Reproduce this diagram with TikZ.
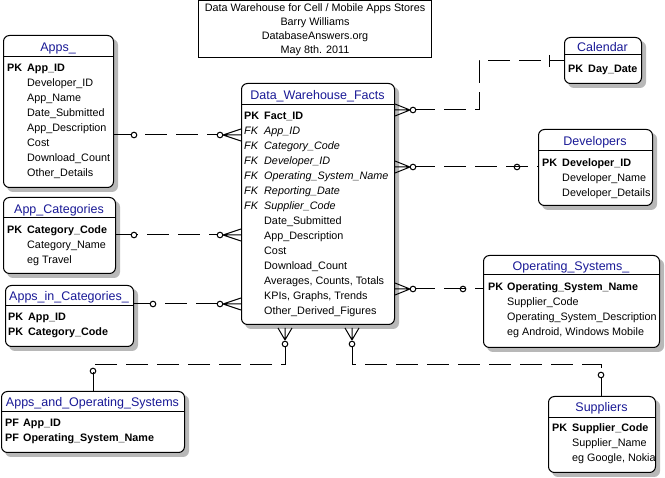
\documentclass[tikz,border=0pt]{standalone}
\usepackage{fontspec}
\setmainfont{Liberation Sans}
\usetikzlibrary{calc,backgrounds}
\definecolor{ttlc}{RGB}{25,25,150}
\newcommand\attrows[4]{%
  \foreach \t [count=\i] in {#4} {\node[att] (#1-\i) at (#2,{#3+15*\i}) {\t};}}
\newcommand\crowL[1]{%
  \draw[sol] ($(#1)+(-18,0)$) -- ($(#1)+(0,-6)$) ($(#1)+(-18,0)$) -- (#1) ($(#1)+(-18,0)$) -- ($(#1)+(0,6)$);
  \draw[sol,fill=white] ($(#1)+(-21,0)$) circle (2.8pt);}
\newcommand\crowR[1]{%
  \draw[sol] ($(#1)+(15,0)$) -- ($(#1)+(0,-6)$) ($(#1)+(15,0)$) -- (#1) ($(#1)+(15,0)$) -- ($(#1)+(0,6)$);
  \draw[sol,fill=white] ($(#1)+(18,0)$) circle (2.8pt);}
\newcommand\crowD[1]{%
  \draw[sol] ($(#1)+(0,15)$) -- ($(#1)+(-7,3)$) ($(#1)+(0,15)$) -- ($(#1)+(0,3)$) ($(#1)+(0,15)$) -- ($(#1)+(7,3)$);
  \draw[sol,fill=white] ($(#1)+(0,19)$) circle (2.8pt);}
\begin{document}
\begin{tikzpicture}[x=1pt,y=-1pt,
  sol/.style={line width=1pt},
  rel/.style={line width=1pt,dash pattern=on 22pt off 9pt},
  ent/.style={draw,line width=1pt,rounded corners=6pt,fill=white,anchor=north west,inner sep=0pt},
  shd/.style={fill=black!28,rounded corners=6pt},
  ttl/.style={anchor=base,inner sep=0pt,text=ttlc,font=\fontsize{12.5}{15}\selectfont},
  att/.style={anchor=base west,inner sep=0pt,font=\fontsize{10.8}{13}\selectfont},
  kb/.style={att,font=\fontsize{10.8}{13}\selectfont\bfseries},
  fki/.style={att,font=\fontsize{10.8}{13}\selectfont\itshape}]
\useasboundingbox (0,0) rectangle (665,478);

% header box
\node[draw,line width=1pt,minimum width=233pt,minimum height=57pt,anchor=north west,inner sep=0pt,
  align=center,font=\fontsize{10.8}{14}\selectfont] (hdr) at (198,0.5)
  {Data Warehouse for Cell / Mobile Apps Stores\\Barry Williams\\DatabaseAnswers.org\\May 8th. 2011};

% Apps_
\node[ent,minimum width=110pt,minimum height=152pt] (apps) at (3,35) {};
\draw[sol] ($(apps.north west)+(0,22)$) -- ($(apps.north east)+(0,22)$);
\node[ttl] (apps-t) at (58,51.5) {Apps\_};
\node[kb] (apps-pk) at (7,72) {PK};
\node[kb] (apps-k) at (27,72) {App\_ID};
\attrows{apps}{27}{72}{Developer\_ID,App\_Name,Date\_Submitted,App\_Description,Cost,Download\_Count,Other\_Details}

% App_Categories
\node[ent,minimum width=112pt,minimum height=76pt] (appcat) at (3,197) {};
\draw[sol] ($(appcat.north west)+(0,21)$) -- ($(appcat.north east)+(0,21)$);
\node[ttl] (appcat-t) at (59,213.5) {App\_Categories};
\node[kb] (appcat-pk) at (7,234) {PK};
\node[kb] (appcat-k) at (27,234) {Category\_Code};
\attrows{appcat}{27}{234}{Category\_Name,eg Travel}

% Apps_in_Categories_
\node[ent,minimum width=128pt,minimum height=61pt] (appsincat) at (5,285) {};
\draw[sol] ($(appsincat.north west)+(0,21)$) -- ($(appsincat.north east)+(0,21)$);
\node[ttl] (appsincat-t) at (69,300.5) {Apps\_in\_Categories\_};
\node[kb] (appsincat-pk1) at (8,321) {PK};
\node[kb] (appsincat-k1) at (28,321) {App\_ID};
\node[kb] (appsincat-pk2) at (8,336) {PK};
\node[kb] (appsincat-k2) at (28,336) {Category\_Code};

% Data_Warehouse_Facts
\node[ent,minimum width=153pt,minimum height=241pt] (dwf) at (241,83) {};
\draw[sol] ($(dwf.north west)+(0,22)$) -- ($(dwf.north east)+(0,22)$);
\node[ttl] (dwf-t) at (317.5,99.5) {Data\_Warehouse\_Facts};
\node[kb] (dwf-pk) at (244,120) {PK};
\node[kb] (dwf-k) at (264,120) {Fact\_ID};
\foreach \t [count=\i] in {App\_ID,Category\_Code,Developer\_ID,Operating\_System\_Name,Reporting\_Date,Supplier\_Code}
  {\node[fki] (dwf-fk\i) at (244,{120+15*\i}) {FK}; \node[fki] (dwf-f\i) at (264,{120+15*\i}) {\t};}
\attrows{dwf}{264}{210}{Date\_Submitted,App\_Description,Cost,Download\_Count,{Averages, Counts, Totals},{KPIs, Graphs, Trends},Other\_Derived\_Figures}

% Calendar
\node[ent,minimum width=77pt,minimum height=46pt] (calendar) at (564,37) {};
\draw[sol] ($(calendar.north west)+(0,18)$) -- ($(calendar.north east)+(0,18)$);
\node[ttl] (calendar-t) at (602.5,51.5) {Calendar};
\node[kb] (calendar-pk) at (568,73) {PK};
\node[kb] (calendar-k) at (588,73) {Day\_Date};

% Developers
\node[ent,minimum width=114pt,minimum height=76pt] (developers) at (538,129) {};
\draw[sol] ($(developers.north west)+(0,22)$) -- ($(developers.north east)+(0,22)$);
\node[ttl] (developers-t) at (595,145.5) {Developers};
\node[kb] (developers-pk) at (542,167) {PK};
\node[kb] (developers-k) at (562,167) {Developer\_ID};
\attrows{developers}{562}{167}{Developer\_Name,Developer\_Details}

% Operating_Systems_
\node[ent,minimum width=176pt,minimum height=92pt] (os) at (483,255) {};
\draw[sol] ($(os.north west)+(0,20)$) -- ($(os.north east)+(0,20)$);
\node[ttl] (os-t) at (571,270.5) {Operating\_Systems\_};
\node[kb] (os-pk) at (488,291) {PK};
\node[kb] (os-k) at (507,291) {Operating\_System\_Name};
\attrows{os}{507}{291}{Supplier\_Code,Operating\_System\_Description,{eg Android, Windows Mobile}}

% Apps_and_Operating_Systems
\node[ent,minimum width=183pt,minimum height=61pt] (aos) at (1,391) {};
\draw[sol] ($(aos.north west)+(0,21)$) -- ($(aos.north east)+(0,21)$);
\node[ttl] (aos-t) at (92.5,406.5) {Apps\_and\_Operating\_Systems};
\node[kb] (aos-pf1) at (5,427) {PF};
\node[kb] (aos-k1) at (23,427) {App\_ID};
\node[kb] (aos-pf2) at (5,442) {PF};
\node[kb] (aos-k2) at (23,442) {Operating\_System\_Name};

% Suppliers
\node[ent,minimum width=107pt,minimum height=76pt] (suppliers) at (548,396) {};
\draw[sol] ($(suppliers.north west)+(0,22)$) -- ($(suppliers.north east)+(0,22)$);
\node[ttl] (suppliers-t) at (601.5,411.5) {Suppliers};
\node[kb] (suppliers-pk) at (552,432) {PK};
\node[kb] (suppliers-k) at (572,432) {Supplier\_Code};
\attrows{suppliers}{572}{432}{Supplier\_Name,{eg Google, Nokia}}

% shadows behind the entities
\begin{scope}[on background layer]
\fill[white] (0,0) rectangle (665,478);
\foreach \e in {apps,appcat,appsincat,dwf,calendar,developers,os,aos,suppliers}
  \fill[shd] ($(\e.north west)+(4,4)$) rectangle ($(\e.south east)+(4,4)$);
\end{scope}

% ---- relationships ----
% Apps_ -> DWF
\coordinate (r1a) at ($(apps.north east)+(0,100)$);
\coordinate (r1b) at ($(dwf.north west)+(0,52)$);
\draw[rel] (r1a) -- ($(r1b)+(-21,0)$);
\draw[sol,fill=white] ($(r1a)+(20,0)$) circle (2.8pt);
\crowL{r1b}

% App_Categories -> DWF
\coordinate (r2a) at ($(appcat.north east)+(0,38)$);
\coordinate (r2b) at ($(dwf.north west)+(0,152)$);
\draw[rel] (r2a) -- ($(r2b)+(-21,0)$);
\draw[sol,fill=white] ($(r2a)+(18,0)$) circle (2.8pt);
\crowL{r2b}

% Apps_in_Categories_ -> DWF
\coordinate (r3a) at ($(appsincat.north east)+(0,19)$);
\coordinate (r3b) at ($(dwf.north west)+(0,221)$);
\draw[rel] (r3a) -- ($(r3b)+(-21,0)$);
\draw[sol,fill=white] ($(r3a)+(19,0)$) circle (2.8pt);
\crowL{r3b}

% DWF -> Calendar
\coordinate (r4a) at ($(dwf.north east)+(0,27)$);
\coordinate (r4b) at ($(calendar.north west)+(0,24)$);
\draw[rel] ($(r4a)+(18,0)$) -| ($(r4b)+(-85,0)$) -- (r4b);
\draw[sol] ($(r4b)+(-15,-6)$) -- ($(r4b)+(-15,6)$);
\crowR{r4a}

% DWF -> Developers
\coordinate (r5a) at ($(dwf.north east)+(0,84)$);
\coordinate (r5b) at ($(developers.north west)+(0,38)$);
\draw[rel] ($(r5a)+(18,0)$) -- (r5b);
\draw[sol] ($(r5b)+(-21,0)$) circle (2.8pt);
\crowR{r5a}

% DWF -> Operating_Systems_
\coordinate (r6a) at ($(dwf.north east)+(0,206)$);
\coordinate (r6b) at ($(os.north west)+(0,34)$);
\draw[rel] ($(r6a)+(18,0)$) -- (r6b);
\draw[sol] ($(r6b)+(-20,0)$) circle (2.8pt);
\crowR{r6a}

% DWF -> Apps_and_Operating_Systems
\coordinate (r7a) at ($(dwf.south west)+(44,0)$);
\coordinate (r7b) at ($(aos.north west)+(92,0)$);
\draw[rel] ($(r7a)+(0,22)$) |- ($(r7b)+(0,-26)$) -- (r7b);
\draw[sol] ($(r7b)+(0,-20)$) circle (2.8pt);
\crowD{r7a}

% DWF -> Suppliers
\coordinate (r8a) at ($(dwf.south west)+(111,0)$);
\coordinate (r8b) at ($(suppliers.north west)+(53,0)$);
\draw[rel] ($(r8a)+(0,22)$) |- ($(r8b)+(0,-31)$) -- (r8b);
\draw[sol] ($(r8b)+(0,-21)$) circle (2.8pt);
\crowD{r8a}
\end{tikzpicture}
\end{document}
